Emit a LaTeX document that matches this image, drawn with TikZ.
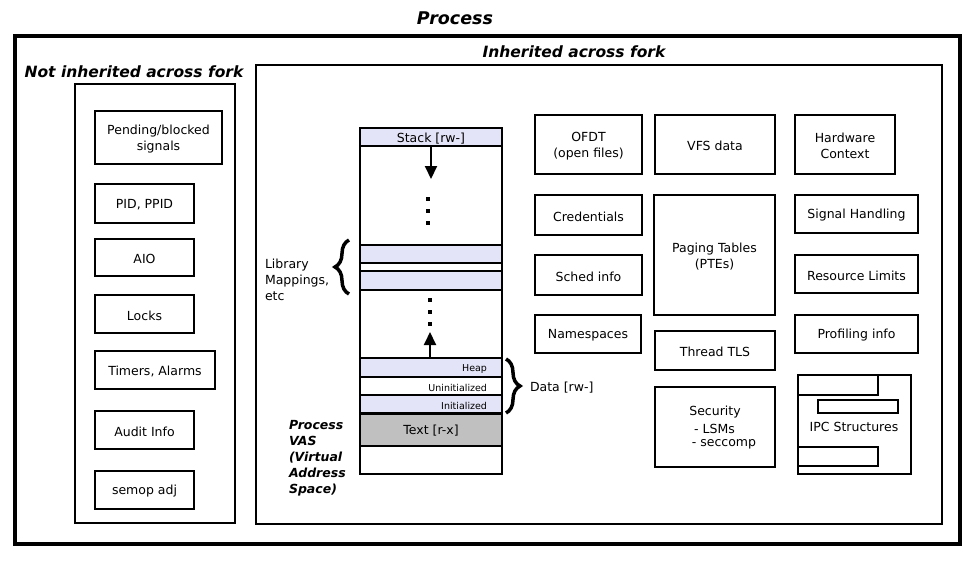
\documentclass[tikz,border=0pt]{standalone}
\usepackage{fontspec}
\setmainfont{DejaVu Sans}
\usetikzlibrary{arrows.meta,decorations.pathreplacing}
\definecolor{lav}{RGB}{228,228,248}
\definecolor{txtgray}{RGB}{192,192,192}
\begin{document}
\begin{tikzpicture}[x=1pt,y=-1pt,
  every node/.style={inner sep=0pt, outer sep=0pt},
  boxtext/.style={align=center, font=\fontsize{12.5}{16}\selectfont, yshift=-1.5pt},
  box/.style={draw, line width=2pt, label={[boxtext]center:{#1}}},
  title/.style={font=\fontsize{17.5}{20}\selectfont\bfseries\itshape},
  subtitle/.style={font=\fontsize{15.5}{18}\selectfont\bfseries\itshape},
  band/.style={draw, line width=2pt, minimum width=142pt},
  small/.style={font=\fontsize{9.5}{11}\selectfont, yshift=-1.5pt},
  plain/.style={font=\fontsize{12.5}{16}\selectfont, align=left, yshift=-1.5pt},
  growarrow/.style={line width=2pt, -{Triangle[length=13pt,width=12pt]}},
  vdots/.style={line width=4pt, dash pattern=on 4pt off 8pt},
  bigbrace/.style={decorate, decoration={brace, amplitude=14pt}, line width=3.5pt}
]
\useasboundingbox (0,0) rectangle (976,565);
\fill[white] (0,0) rectangle (976,565);

% outer frames
\node[title] (ptitle) at (455,18) {Process};
\node[draw, line width=4pt, minimum width=945pt, minimum height=508pt] (proc) at (487.5,290) {};
\node[subtitle] (nititle) at (134,72) {Not inherited across fork};
\node[draw, line width=2pt, minimum width=160pt, minimum height=439pt] (notinh) at (155,303.5) {};
\node[subtitle] (ititle) at (574,52) {Inherited across fork};
\node[draw, line width=2pt, minimum width=686pt, minimum height=459pt] (inh) at (599,294.5) {};

% left column
\node[box={Pending/blocked\\signals}, minimum width=127pt, minimum height=53pt] (pend) at (158.5,137.5) {};
\node[box={PID, PPID}, minimum width=99pt, minimum height=39pt] (pid) at (144.5,203.5) {};
\node[box={AIO}, minimum width=99pt, minimum height=37pt] (aio) at (144.5,257.5) {};
\node[box={Locks}, minimum width=99pt, minimum height=38pt] (locks) at (144.5,314) {};
\node[box={Timers, Alarms}, minimum width=120pt, minimum height=38pt] (timers) at (155,370) {};
\node[box={Audit Info}, minimum width=99pt, minimum height=38pt] (audit) at (144.5,430) {};
\node[box={semop adj}, minimum width=99pt, minimum height=38pt] (semop) at (144.5,490) {};

% VAS column
\node[draw, line width=2pt, minimum width=142pt, minimum height=346pt] (vas) at (431,301) {};
\node[band, fill=lav, minimum height=18pt] (stk) at (431,137) {};
\node[plain] (stkl) at (431,137.5) {Stack [rw-]};
\node[band, fill=lav, minimum height=18pt] (lib1) at (431,254) {};
\node[band, fill=lav, minimum height=19pt] (lib2) at (431,280.5) {};
\node[band, fill=lav, minimum height=19pt] (heap) at (431,367.5) {};
\node[band, fill=white, minimum height=18pt] (uninit) at (431,386) {};
\node[band, fill=lav, minimum height=18pt] (init) at (431,404) {};
\node[band, fill=txtgray, minimum height=32pt] (text) at (431,430) {};
\node[plain] (textl) at (431,429.5) {Text [r-x]};
\node[small, anchor=east] (heapl) at (487,367.5) {Heap};
\node[small, anchor=east] (uninitl) at (487,386) {Uninitialized};
\node[small, anchor=east] (initl) at (487,404) {Initialized};

\coordinate (downtip) at (431,179);
\draw[growarrow] (stk.south) -- (downtip);
\coordinate (uptip) at (430,332);
\draw[growarrow] (heap.north -| uptip) -- (uptip);
\coordinate (d1a) at (428,197); \coordinate (d1b) at (428,227);
\draw[vdots] (d1a) -- (d1b);
\coordinate (d2a) at (430,298); \coordinate (d2b) at (430,328);
\draw[vdots] (d2a) -- (d2b);

% braces and labels
\coordinate (lbb) at (349,294); \coordinate (lbt) at (349,240);
\draw[bigbrace] (lbb) -- (lbt);
\node[plain, anchor=west] (libl) at (265,278) {Library\\Mappings,\\etc};
\coordinate (rbt) at (506,359); \coordinate (rbb) at (506,413);
\draw[bigbrace] (rbt) -- (rbb);
\node[plain, anchor=west] (datal) at (530,386) {Data [rw-]};
\node[anchor=west, align=left, font=\fontsize{12.5}{16}\selectfont\bfseries\itshape, yshift=-1.5pt] (vasl) at (289,457) {Process\\VAS\\(Virtual\\Address\\Space)};

% middle columns
\node[box={OFDT\\(open files)}, minimum width=107pt, minimum height=59pt] (ofdt) at (588.5,144.5) {};
\node[box={Credentials}, minimum width=107pt, minimum height=40pt] (cred) at (588.5,215) {};
\node[box={Sched info}, minimum width=107pt, minimum height=40pt] (sched) at (588.5,275) {};
\node[box={Namespaces}, minimum width=106pt, minimum height=38pt] (ns) at (588,334) {};
\node[box={VFS data}, minimum width=120pt, minimum height=59pt] (vfs) at (715,144.5) {};
\node[box={Paging Tables\\(PTEs)}, minimum width=121pt, minimum height=120pt] (paging) at (714.5,255) {};
\node[box={Thread TLS}, minimum width=120pt, minimum height=39pt] (tls) at (715,350.5) {};
\node[draw, line width=2pt, minimum width=120pt, minimum height=80pt] (sec) at (715,427) {};
\node[plain] (sec1) at (715,411) {Security};
\node[plain] (sec2) at (714.5,427) {- LSMs};
\node[plain] (sec3) at (724,443) {- seccomp};

% right column
\node[box={Hardware\\Context}, minimum width=100pt, minimum height=59pt] (hw) at (845,144.5) {};
\node[box={Signal Handling}, minimum width=123pt, minimum height=38pt] (sig) at (856.5,214) {};
\node[box={Resource Limits}, minimum width=123pt, minimum height=38pt] (res) at (856.5,274) {};
\node[box={Profiling info}, minimum width=123pt, minimum height=38pt] (prof) at (856.5,334) {};
\node[draw, line width=2pt, minimum width=113pt, minimum height=99pt] (ipc) at (854.5,424.5) {};
\node[plain] (ipcl) at (854,425) {IPC Structures};
\draw[line width=2pt] (798,375) rectangle (878,395);
\draw[line width=2pt] (818,400) rectangle (898,413);
\draw[line width=2pt] (798,447) rectangle (878,466);
\end{tikzpicture}
\end{document}
